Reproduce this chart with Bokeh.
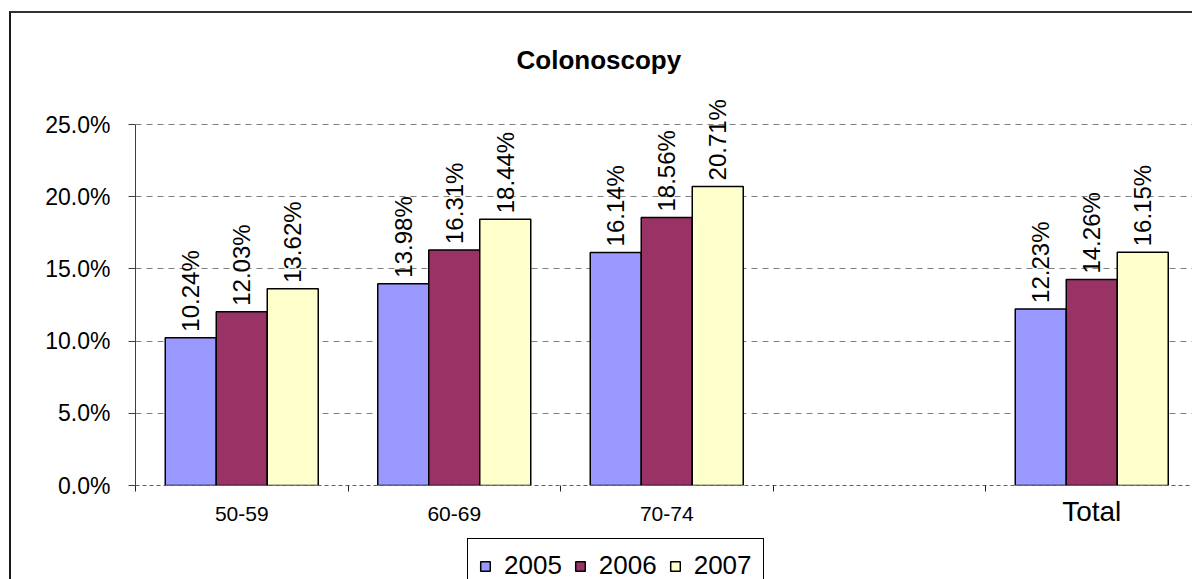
import numpy as np
from bokeh.plotting import figure
from bokeh.layouts import column
from bokeh.models import (ColumnDataSource, Range1d, FixedTicker, LabelSet, Label,
                          Legend, LegendItem, PrintfTickFormatter)
from bokeh.core.properties import value
from bokeh.embed import file_html
from bokeh.resources import INLINE

# Screening rates by age group (percent)
categories = ["50-59", "60-69", "70-74", "", "Total"]
years = ["2005", "2006", "2007"]
rate_2005 = [10.24, 13.98, 16.14, None, 12.23]
rate_2006 = [12.03, 16.31, 18.56, None, 14.26]
rate_2007 = [13.62, 18.44, 20.71, None, 16.15]
y_ticks = [0, 5, 10, 15, 20, 25]

series = [rate_2005, rate_2006, rate_2007]
colors = ["#9999FF", "#993366", "#FFFFCC"]

FONT = "Liberation Sans"
PAGE_W, PAGE_H = 1192, 579
OX, OY = 11, 13                      # canvas origin inside the chart border
AX_L, AX_T, AX_B = 135, 124, 485     # value axis: left edge, 25% line, 0% line
FRAME_T = 90                         # frame top, leaves room for the tallest label
CAT_W = 212.5                        # pixel width of one category slot
MAIN_BOTTOM = 545                    # page row where the main canvas ends
FOOT_TOP = 490                       # page row where the footer strip starts
FOOT_H = 100

n_cat = len(categories)
px_per_pct = (AX_B - AX_T) / 25
y_end = 25 + (AX_T - FRAME_T) / px_per_pct
x_end = (PAGE_W - AX_L) / CAT_W
canvas_w = PAGE_W - OX

p = figure(width=canvas_w, height=MAIN_BOTTOM - OY,
           output_backend="svg", toolbar_location=None,
           x_range=Range1d(0, x_end), y_range=Range1d(0, y_end),
           min_border_left=AX_L - OX, min_border_right=0,
           min_border_top=FRAME_T - OY, min_border_bottom=MAIN_BOTTOM - AX_B,
           background_fill_color="white", border_fill_color="white")
p.outline_line_color = None

# chart title
p.title.text = "Colonoscopy"
p.title.text_font = FONT
p.title.text_font_size = "26px"
p.title.text_font_style = "bold"
p.title.text_color = "black"
p.title.align = "left"
p.title.offset = 516 - AX_L
p.title.vertical_align = "bottom"
p.title.standoff = 2 * (FRAME_T - 74)

# y axis
p.yaxis.ticker = FixedTicker(ticks=y_ticks)
p.yaxis.bounds = (0, 25)
p.yaxis.formatter = PrintfTickFormatter(format="%.1f%%")
p.yaxis.major_label_text_font = FONT
p.yaxis.major_label_text_font_size = "23px"
p.yaxis.major_label_text_color = "black"
p.yaxis.axis_line_color = "#404040"
p.yaxis.major_tick_line_color = "#404040"
p.yaxis.major_tick_out = 7
p.yaxis.major_tick_in = 0
p.yaxis.minor_tick_line_color = None
p.yaxis.major_label_standoff = 18

# x axis: labels at category centres, tick marks at category boundaries
centers = [i + 0.5 for i in range(n_cat)]
p.xaxis.ticker = FixedTicker(ticks=centers, minor_ticks=list(range(n_cat + 1)))
overrides = {c: lab for c, lab in zip(centers, categories)}
overrides[centers[4]] = ""
p.xaxis.major_label_overrides = overrides
p.xaxis.major_label_text_font = FONT
p.xaxis.major_label_text_font_size = "21px"
p.xaxis.major_label_text_color = "black"
p.xaxis.major_tick_out = 0
p.xaxis.major_tick_in = 0
p.xaxis.minor_tick_out = 6
p.xaxis.minor_tick_in = 0
p.xaxis.minor_tick_line_color = "#202020"
p.xaxis.axis_line_color = "#606060"
p.xaxis.axis_line_dash = "4 3"
p.xaxis.major_label_standoff = 15

p.xgrid.grid_line_color = None
p.ygrid.ticker = FixedTicker(ticks=y_ticks)
p.ygrid.grid_line_color = "#808080"
p.ygrid.grid_line_dash = "6 5"
p.ygrid.grid_line_width = 1

bar_w = 51 / CAT_W
offsets = [-bar_w, 0, bar_w]

sources = []
lab_x, lab_y, lab_t = [], [], []
for vals, col, off in zip(series, colors, offsets):
    xs = [i + 0.5 + off for i, v in enumerate(vals) if v is not None]
    ys = [v for v in vals if v is not None]
    src = ColumnDataSource(dict(x=xs, top=ys))
    sources.append(src)
    p.vbar(x="x", top="top", width=bar_w, bottom=0, source=src,
           fill_color=col, line_color="black", line_width=1.5)
    lab_x += xs
    lab_y += ys
    lab_t += [f"{v:.2f}%" for v in ys]

labels = LabelSet(x="x", y="y", text="t",
                  source=ColumnDataSource(dict(x=lab_x, y=lab_y, t=lab_t)),
                  angle=np.pi / 2, text_align="left", text_baseline="middle",
                  y_offset=6, text_font=value(FONT), text_font_size=value("24px"),
                  text_color="black")
p.add_layout(labels)

# Footer strip sharing the category scale: "Total" name (set larger) and legend.
# Its y range runs in pixels from the strip's top edge downwards.
foot = figure(width=canvas_w, height=FOOT_H, title=None,
              output_backend="svg", toolbar_location=None,
              x_range=p.x_range, y_range=Range1d(FOOT_H, 0),
              x_axis_location=None, y_axis_location=None,
              min_border_left=AX_L - OX, min_border_right=0,
              min_border_top=0, min_border_bottom=0,
              background_fill_alpha=0, border_fill_alpha=0)
foot.outline_line_color = None
foot.grid.visible = False
foot.styles = {"margin-top": f"{FOOT_TOP - MAIN_BOTTOM}px"}

foot.add_layout(Label(x=centers[4], y=511 - FOOT_TOP, text=categories[4],
                      text_font=FONT, text_font_size="28px", text_color="black",
                      text_align="center", text_baseline="middle"))

# hidden copies of the bar series, used only for the legend swatches
swatches = []
for src, col in zip(sources, colors):
    swatches.append(foot.vbar(x="x", top="top", width=bar_w, bottom=0, source=src,
                              fill_color=col, line_color="black", line_width=1.5,
                              visible=False))

LEGEND_H = 56
legend = Legend(items=[LegendItem(label=yr, renderers=[r]) for yr, r in zip(years, swatches)],
                orientation="horizontal",
                location=(467 - AX_L, FOOT_H - (537 - FOOT_TOP) - LEGEND_H),
                glyph_width=12, glyph_height=12, label_standoff=13, spacing=12,
                padding=11, label_text_font=FONT, label_text_font_size="26px",
                label_text_color="black",
                border_line_color="black", border_line_width=1, border_line_alpha=1,
                background_fill_color="white", background_fill_alpha=1)
foot.add_layout(legend, "center")

layout = column(p, foot, spacing=0,
                styles={"margin-left": "9px", "margin-top": "11px",
                        "border-left": "2px solid #1a1a1a",
                        "border-top": "2px solid #333333"})

open("out.html", "w").write(file_html(layout, INLINE))
